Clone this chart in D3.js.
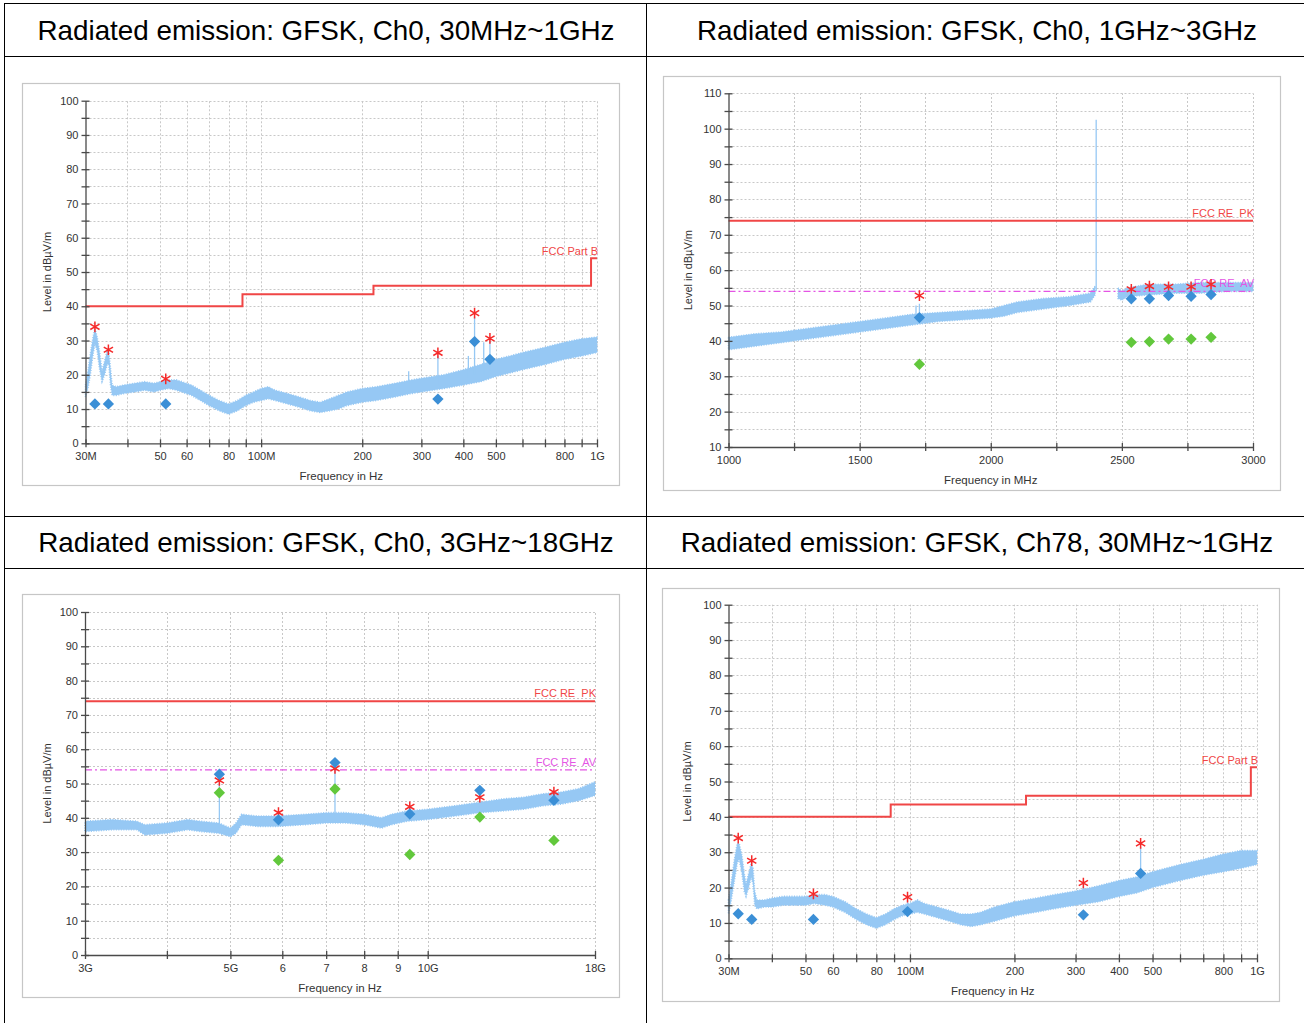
<!DOCTYPE html>
<html><head><meta charset="utf-8">
<script src="https://cdn.jsdelivr.net/npm/d3@7"></script>
<style>body{margin:0;background:#fff}svg{display:block}</style>
</head><body>
<svg id="c" width="1304" height="1023"></svg>
<script>
// ================= DATA =================
const headerTitles = [
  "Radiated emission: GFSK, Ch0, 30MHz~1GHz",
  "Radiated emission: GFSK, Ch0, 1GHz~3GHz",
  "Radiated emission: GFSK, Ch0, 3GHz~18GHz",
  "Radiated emission: GFSK, Ch78, 30MHz~1GHz"
];

// x ticks / labels
const ticks30M1G = [30,40,50,60,70,80,90,100,200,300,400,500,600,700,800,900,1000];
const labels30M1G = {30:"30M",50:"50",60:"60",80:"80",100:"100M",200:"200",300:"300",400:"400",500:"500",800:"800",1000:"1G"};
const ticks1G3G = [1000,1250,1500,1750,2000,2250,2500,2750,3000];
const labels1G3G = {1000:"1000",1500:"1500",2000:"2000",2500:"2500",3000:"3000"};
const ticks3G18G = [3,4,5,6,7,8,9,10,18];
const labels3G18G = {3:"3G",5:"5G",6:"6",7:"7",8:"8",9:"9",10:"10G",18:"18G"};

// limits
const fccPartB = [[30,40],[88,43.5],[216,46],[960,54],[1000,54]];
const fccPK = 74;
const fccAV = 54;

// ---- Panel 1: Ch0 30MHz~1GHz  [MHz, low, high] ----
const p1Trace = [[30,13.5,17],[30.5,16,21],[31,20,26],[31.6,26,31],[32,29,33.5],[32.5,27,31],[33,22,27],[33.6,18,21],
  [34.2,20,24],[34.8,23,27],[35.2,23,26.5],[35.6,17,22],[36,14,17],[37,14,16.5],[39,14.5,17],[42,15,17.5],[45,15.5,18],
  [48,15,17.5],[50,15.5,18],[53,16,18.5],[56,15.5,18.5],[58,15,18],[62,14,17],[66,12.5,15.5],[70,11,14],[75,9.5,12.5],
  [80,8.5,11.5],[85,9.5,12.5],[90,11,14],[95,12,15],[100,12.5,16],[105,13,16.5],[110,12.5,15.5],[120,11.5,14.5],
  [130,10.5,13.5],[140,9.5,12.5],[150,9,12],[160,9.5,13],[170,10,14],[180,11,15],[200,12,16],[220,12.5,16.5],
  [250,13.5,17.5],[280,14.5,18.5],[300,15,19],[350,16,20],[400,17,21.5],[450,18,23],[500,19.5,24.5],[550,20.5,25.5],
  [600,21.5,26.5],[700,23,28],[800,24.5,29.5],[900,25.5,30.5],[1000,26.5,31]];
const p1Spikes = [[275,16,21],[336,17,25.5],[414,19,25.5],[432,20,37],[460,20,29.5],[480,21,30]];
const p1Peak = [[32,34],[35.1,27.3],[52,18.8],[336,26.4],[432,38],[480,30.6]];
const p1QP = [[32,11.5],[35.1,11.5],[52,11.5],[336,12.9],[432,29.7],[480,24.5]];

// ---- Panel 2: Ch0 1GHz~3GHz  [MHz, low, high] (null = gap) ----
const p2Trace = [[1000,37.5,41],[1100,38.5,42],[1200,39.5,42.5],[1300,40.5,43.5],[1400,41.5,44.5],[1500,42.5,45.5],
  [1600,43.5,46.5],[1700,44.5,47.5],[1800,45.5,48],[1900,46,48.5],[2000,46.5,49],[2050,47,50],[2100,48,51],
  [2200,49,52],[2300,50,52.5],[2380,51,53.5],[2398,53,55.5],[2400,null,null],[2485,52,55],[2500,51.5,54],
  [2520,52.5,55],[2600,53,56],[2700,53.5,56],[2800,53.5,56.5],[2900,54,56.5],[3000,54,56.5]];
const p2Spikes = [[1715,46,50],[1728,46,50.5],[2402,54,102.5]];
const p2Peak = [[1728,52.8],[2536,54.6],[2605,55.5],[2678,55.3],[2764,55.3],[2840,56]];
const p2PK = [[1728,46.6],[2536,51.9],[2605,51.9],[2678,52.8],[2764,52.6],[2840,53.1]];
const p2AV = [[1728,33.4],[2536,39.6],[2605,39.8],[2678,40.5],[2764,40.5],[2840,41]];

// ---- Panel 3: Ch0 3GHz~18GHz  [GHz, low, high] ----
const p3Trace = [[3,36,39],[3.3,36.5,39.5],[3.6,36.5,39],[3.7,35,38],[4,35.5,38.5],[4.3,36.5,39.5],[4.5,36,39],
  [4.8,35.5,38.5],[5,34.5,37],[5.1,35.5,38.5],[5.2,38,41],[5.5,37.5,40.5],[5.9,37.5,40.5],[6.5,38,41],[7,38.5,41.5],
  [7.5,38.5,41.5],[8,38,41],[8.5,37,40],[8.8,38,41],[9.3,39,42],[10,39.5,42.5],[11,40.5,43.5],[12,41.5,44.5],
  [13,42,45.5],[14,42.5,46],[15,43.5,47],[16,44,47.5],[17,45,48.5],[18,46.5,50.5]];
const p3Spikes = [[4.81,37,52.7],[7.22,40,56]];
const p3Peak = [[4.81,50.9],[5.92,41.5],[7.22,54.4],[9.39,43.2],[12.01,46],[15.58,47.5]];
const p3PK = [[4.81,52.7],[5.92,39.4],[7.22,56.1],[9.39,41.1],[12.01,48],[15.58,45.1]];
const p3AV = [[4.81,47.3],[5.92,27.6],[7.22,48.4],[9.39,29.3],[12.01,40.2],[15.58,33.4]];

// ---- Panel 4: Ch78 30MHz~1GHz  [MHz, low, high] ----
const p4Trace = [[30,12.5,16.5],[30.5,16,21],[31.2,22,28],[31.8,27,32.5],[32.2,28,32.5],[32.8,24,29],[33.3,19,24],
  [33.7,17.5,21],[34.3,20,24],[34.9,23,27],[35.3,21,25.5],[35.7,15,19],[36.2,14,16.5],[38,14.5,16.5],[40,14.5,17],
  [43,15,17.5],[46,15,17.5],[50,15,17.5],[53,15.5,18],[57,15,18],[60,14.5,17.5],[65,13,16],[70,11,14],[75,9.5,12.5],
  [80,8.5,11.5],[85,9.5,12.5],[90,11,14],[95,12,15],[100,12.5,15.5],[105,13,16.5],[110,12.5,15.5],[120,11.5,14.5],
  [130,10.5,13.5],[140,9.5,12.5],[150,9,12.5],[160,9.5,13],[175,10.5,14.5],[200,12,16],[230,13,17],[260,14,18],
  [300,15,19],[350,16,20.5],[400,17.5,22],[450,18.5,23],[500,20,24.5],[600,22,26.5],[700,23.5,28],[800,24.5,29.5],
  [900,25.5,30.5],[1000,26.5,30.5]];
const p4Spikes = [[98.4,14,16.5],[316,17,20.5],[462,22,31.5]];
const p4Peak = [[32,34],[35,27.6],[52.7,18.2],[98.4,17.3],[316,21.3],[462,32.5]];
const p4QP = [[32,12.6],[35,11],[52.7,11],[98.4,13.2],[316,12.3],[462,24]];

// ================= STYLE =================
const C = {trace:"#96c8f4", red:"#f04646", mag:"#e455e4", blue:"#3b8fd6", green:"#62c83c", star:"#f52a2a",
           grid:"#c8c8c8", axis:"#4a4a4a", text:"#333", frame:"#c6c6c6"};
const FONT = "'Liberation Sans', Arial, sans-serif";

const svg = d3.select("#c");

// ================= TABLE =================
const tbl = svg.append("g").attr("stroke","#000").attr("stroke-width",1);
[[4,3.5,1310,3.5],[4,56.5,1310,56.5],[4,516.5,1310,516.5],[4,568.5,1310,568.5]].forEach(l=>
  tbl.append("line").attr("x1",l[0]).attr("y1",l[1]).attr("x2",l[2]).attr("y2",l[3]));
[[4.5],[646.5]].forEach(l=>tbl.append("line").attr("x1",l[0]).attr("x2",l[0]).attr("y1",3).attr("y2",1030));

const headerPos = [[326,40],[977,40],[326,552],[977,552]];
svg.selectAll("text.hdr").data(headerTitles).join("text").attr("class","hdr")
  .attr("x",(d,i)=>headerPos[i][0]).attr("y",(d,i)=>headerPos[i][1])
  .attr("text-anchor","middle").attr("font-family",FONT).attr("font-size",27.8).attr("fill","#000")
  .text(d=>d);

// ================= PANELS =================
function panel(cfg){
  const g = svg.append("g");
  g.append("rect").attr("x",cfg.frame[0]+0.5).attr("y",cfg.frame[1]+0.5)
    .attr("width",cfg.frame[2]-cfg.frame[0]).attr("height",cfg.frame[3]-cfg.frame[1])
    .attr("fill","#fff").attr("stroke",C.frame).attr("stroke-width",1.2);

  const x = (cfg.log ? d3.scaleLog() : d3.scaleLinear()).domain(cfg.xDomain).range([cfg.x0,cfg.x1]);
  const y = d3.scaleLinear().domain(cfg.yDomain).range([cfg.y0,cfg.y1]);
  const yTicks = d3.range(cfg.yDomain[0], cfg.yDomain[1]+0.01, 5);

  // grid
  const grid = g.append("g").attr("stroke",C.grid).attr("stroke-width",1).attr("stroke-dasharray","2,2");
  grid.selectAll("line.h").data(yTicks.slice(1)).join("line")
    .attr("x1",cfg.x0).attr("x2",cfg.x1).attr("y1",d=>Math.round(y(d))+0.5).attr("y2",d=>Math.round(y(d))+0.5);
  grid.selectAll("line.v").data(cfg.xTicks.slice(1)).join("line")
    .attr("y1",cfg.y0).attr("y2",cfg.y1).attr("x1",d=>Math.round(x(d))+0.5).attr("x2",d=>Math.round(x(d))+0.5);

  // trace band
  const area = d3.area().defined(d=>d[1]!=null).x(d=>x(d[0])).y0(d=>y(d[1])).y1(d=>y(d[2]));
  g.append("path").datum(cfg.trace).attr("d",area).attr("fill",C.trace)
    .attr("stroke",C.trace).attr("stroke-width",1.6).attr("stroke-dasharray","1,1.5");
  g.selectAll("line.sp").data(cfg.spikes).join("line")
    .attr("x1",d=>x(d[0])).attr("x2",d=>x(d[0])).attr("y1",d=>y(d[1])).attr("y2",d=>y(d[2]))
    .attr("stroke",C.trace).attr("stroke-width",1.3);

  // limits
  if (cfg.stepLimit){
    const ln = d3.line().x(d=>x(d[0])).y(d=>y(d[1])).curve(d3.curveStepAfter);
    g.append("path").datum(cfg.stepLimit).attr("d",ln).attr("fill","none").attr("stroke",C.red).attr("stroke-width",2);
    const last = cfg.stepLimit[cfg.stepLimit.length-1];
    g.append("text").attr("x",cfg.x1+1).attr("y",y(last[1])-3).attr("text-anchor","end")
      .attr("font-family",FONT).attr("font-size",11).attr("fill",C.red).text(cfg.stepLabel);
  }
  if (cfg.pk!=null){
    g.append("line").attr("x1",cfg.x0).attr("x2",cfg.x1).attr("y1",y(cfg.pk)).attr("y2",y(cfg.pk))
      .attr("stroke",C.red).attr("stroke-width",2);
    g.append("text").attr("x",cfg.x1+1).attr("y",y(cfg.pk)-4).attr("text-anchor","end")
      .attr("font-family",FONT).attr("font-size",11).attr("fill",C.red).attr("xml:space","preserve").text("FCC RE  PK");
  }
  if (cfg.av!=null){
    g.append("line").attr("x1",cfg.x0).attr("x2",cfg.x1).attr("y1",y(cfg.av)).attr("y2",y(cfg.av))
      .attr("stroke",C.mag).attr("stroke-width",1.3).attr("stroke-dasharray","7,3,2,3");
    g.append("text").attr("x",cfg.x1+1).attr("y",y(cfg.av)-4).attr("text-anchor","end")
      .attr("font-family",FONT).attr("font-size",11).attr("fill",C.mag).attr("xml:space","preserve").text("FCC RE  AV");
  }

  // axes
  const yAx = g.append("g").attr("transform",`translate(${cfg.x0},0)`)
    .call(d3.axisLeft(y).tickValues(yTicks).tickSizeInner(4).tickSizeOuter(0).tickPadding(3)
      .tickFormat(d=> d%10===0 ? String(d) : ""));
  yAx.select(".domain").attr("stroke",C.axis).attr("stroke-width",1.3);
  yAx.selectAll(".tick line").attr("x1",4).attr("x2",-4).attr("stroke",C.axis).attr("stroke-width",1.3);
  yAx.selectAll("text").attr("font-family",FONT).attr("font-size",11).attr("fill",C.text);

  const xAx = g.append("g").attr("transform",`translate(0,${cfg.y0})`)
    .call(d3.axisBottom(x).tickValues(cfg.xTicks).tickSizeInner(4).tickSizeOuter(0).tickPadding(5)
      .tickFormat(d=> cfg.xLabels[d] || ""));
  xAx.select(".domain").attr("stroke",C.axis).attr("stroke-width",1.3);
  xAx.selectAll(".tick line").attr("y1",-4).attr("y2",4).attr("stroke",C.axis).attr("stroke-width",1.3);
  xAx.selectAll("text").attr("font-family",FONT).attr("font-size",11).attr("fill",C.text);

  // titles
  g.append("text").attr("x",(cfg.x0+cfg.x1)/2).attr("y",cfg.y0+36.5).attr("text-anchor","middle")
    .attr("font-family",FONT).attr("font-size",11.5).attr("fill",C.text).text(cfg.xTitle);
  g.append("text").attr("transform",`translate(${cfg.frame[0]+25},${(cfg.y0+cfg.y1)/2}) rotate(-90)`)
    .attr("dy","0.35em").attr("text-anchor","middle")
    .attr("font-family",FONT).attr("font-size",11).attr("fill",C.text).text("Level in dBµV/m");

  // markers
  const star = d3.symbol().type(d3.symbolAsterisk).size(80);
  g.selectAll("path.pk").data(cfg.peak).join("path")
    .attr("transform",d=>`translate(${x(d[0])},${y(d[1])})`).attr("d",star)
    .attr("fill","none").attr("stroke",C.star).attr("stroke-width",1.5);
  const dia = d3.symbol().type(d3.symbolSquare).size(64);
  g.selectAll("path.qp").data(cfg.qp||[]).join("path")
    .attr("transform",d=>`translate(${x(d[0])},${y(d[1])}) rotate(45)`).attr("d",dia).attr("fill",C.blue);
  g.selectAll("path.av").data(cfg.avg||[]).join("path")
    .attr("transform",d=>`translate(${x(d[0])},${y(d[1])}) rotate(45)`).attr("d",dia).attr("fill",C.green);
}

panel({frame:[22,83,619,485], x0:85.5, x1:597, y0:443.3, y1:100.7, log:true, xDomain:[30,1000], yDomain:[0,100],
  xTicks:ticks30M1G, xLabels:labels30M1G, xTitle:"Frequency in Hz",
  trace:p1Trace, spikes:p1Spikes, stepLimit:fccPartB, stepLabel:"FCC Part B", peak:p1Peak, qp:p1QP});

panel({frame:[663,76,1280,490], x0:728.5, x1:1253, y0:447, y1:93.3, log:false, xDomain:[1000,3000], yDomain:[10,110],
  xTicks:ticks1G3G, xLabels:labels1G3G, xTitle:"Frequency in MHz",
  trace:p2Trace, spikes:p2Spikes, pk:fccPK, av:fccAV, peak:p2Peak, qp:p2PK, avg:p2AV});

panel({frame:[22,594,619,997], x0:85, x1:595, y0:955, y1:612, log:true, xDomain:[3,18], yDomain:[0,100],
  xTicks:ticks3G18G, xLabels:labels3G18G, xTitle:"Frequency in Hz",
  trace:p3Trace, spikes:p3Spikes, pk:fccPK, av:fccAV, peak:p3Peak, qp:p3PK, avg:p3AV});

panel({frame:[662,588,1279,1001], x0:728.5, x1:1257, y0:958.3, y1:604.7, log:true, xDomain:[30,1000], yDomain:[0,100],
  xTicks:ticks30M1G, xLabels:labels30M1G, xTitle:"Frequency in Hz",
  trace:p4Trace, spikes:p4Spikes, stepLimit:fccPartB, stepLabel:"FCC Part B", peak:p4Peak, qp:p4QP});
</script>
</body></html>
